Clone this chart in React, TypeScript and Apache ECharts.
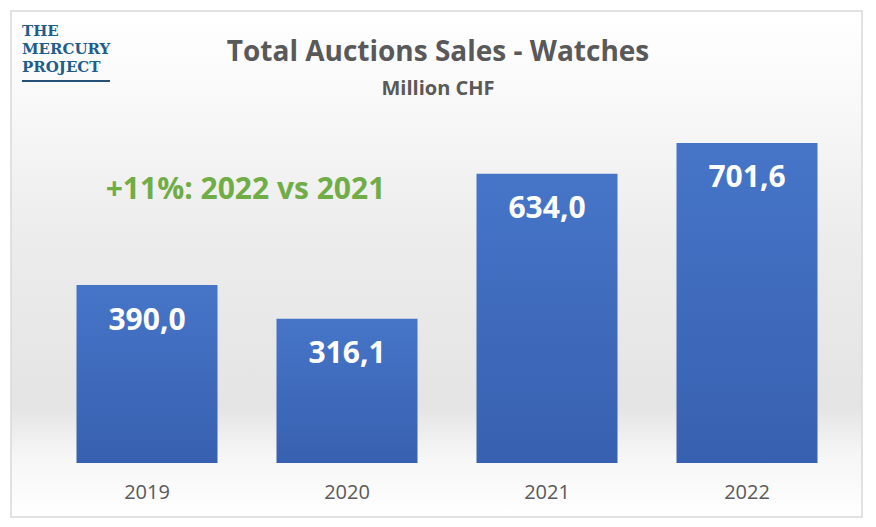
import React, { useEffect, useRef } from "react";
import * as echarts from "echarts";

const categories = ["2019", "2020", "2021", "2022"];
const salesValues = [390.0, 316.1, 634.0, 701.6];
const titleText = "Total Auctions Sales - Watches";
const subtitleText = "Million CHF";
const annotationText = "+11%: 2022 vs 2021";
const logoLines = ["THE", "MERCURY", "PROJECT"];

export default function App() {
  const ref = useRef<HTMLDivElement>(null);

  useEffect(() => {
    document.body.style.margin = "0";
    if (!ref.current) return;
    const chart = echarts.init(ref.current, null, { renderer: "svg" });
    const font = "'Open Sans', 'Noto Sans', sans-serif";
    const logoY = [31, 49, 66.5];

    chart.setOption({
      animation: false,
      backgroundColor: "#ffffff",
      title: [
        {
          text: titleText,
          left: "center",
          top: 36,
          padding: 0,
          textStyle: {
            fontFamily: font,
            fontSize: 28,
            fontWeight: "bold",
            color: "#595959",
            lineHeight: 28,
          },
        },
        {
          text: subtitleText,
          left: "center",
          top: 77,
          padding: 0,
          textStyle: {
            fontFamily: font,
            fontSize: 20,
            fontWeight: "bold",
            color: "#595959",
            lineHeight: 20,
          },
        },
      ],
      graphic: [
        {
          type: "rect",
          shape: { x: 11, y: 11, width: 851, height: 506 },
          style: {
            fill: new echarts.graphic.LinearGradient(0, 0, 0, 1, [
              { offset: 0, color: "#ffffff" },
              { offset: 0.12, color: "#fbfbfb" },
              { offset: 0.45, color: "#ececec" },
              { offset: 0.78, color: "#e4e4e4" },
              { offset: 0.88, color: "#f6f6f6" },
              { offset: 1, color: "#ffffff" },
            ]),
            stroke: "#d9d9d9",
            lineWidth: 1.5,
          },
          z: -10,
        },
        ...logoLines.map((t, i) => ({
          type: "text",
          x: 22,
          y: logoY[i],
          style: {
            text: t,
            fill: "#1f5e8c",
            fontFamily: "DejaVu Serif, serif",
            fontWeight: "bold",
            fontSize: 15,
            textAlign: "left",
            textVerticalAlign: "middle",
          },
        })),
        {
          type: "line",
          shape: { x1: 22, y1: 81, x2: 110, y2: 81 },
          style: { stroke: "#24507a", lineWidth: 2 },
        },
        {
          type: "text",
          x: 245.5,
          y: 187,
          style: {
            text: annotationText,
            fill: "#70AD47",
            fontFamily: font,
            fontWeight: "bold",
            fontSize: 30,
            textAlign: "center",
            textVerticalAlign: "middle",
          },
        },
      ],
      grid: { left: 47, right: 29, top: 98, bottom: 64 },
      xAxis: {
        type: "category",
        data: categories,
        axisLine: { show: false },
        axisTick: { show: false },
        axisLabel: {
          color: "#595959",
          fontFamily: font,
          fontSize: 20,
          margin: 18,
        },
      },
      yAxis: {
        type: "value",
        min: 0,
        max: 800,
        show: false,
        splitLine: { show: false },
      },
      series: [
        {
          type: "bar",
          data: salesValues,
          barWidth: 141,
          itemStyle: {
            color: new echarts.graphic.LinearGradient(0, 0, 0, 1, [
              { offset: 0, color: "#4675c8" },
              { offset: 1, color: "#3860b0" },
            ]),
          },
          label: {
            show: true,
            position: "insideTop",
            distance: 18,
            color: "#ffffff",
            fontFamily: font,
            fontSize: 30,
            fontWeight: "bold",
            formatter: (p: any) => Number(p.value).toFixed(1).replace(".", ","),
          },
        },
      ],
    });

    return () => chart.dispose();
  }, []);

  return <div ref={ref} style={{ width: 876, height: 527 }} />;
}
